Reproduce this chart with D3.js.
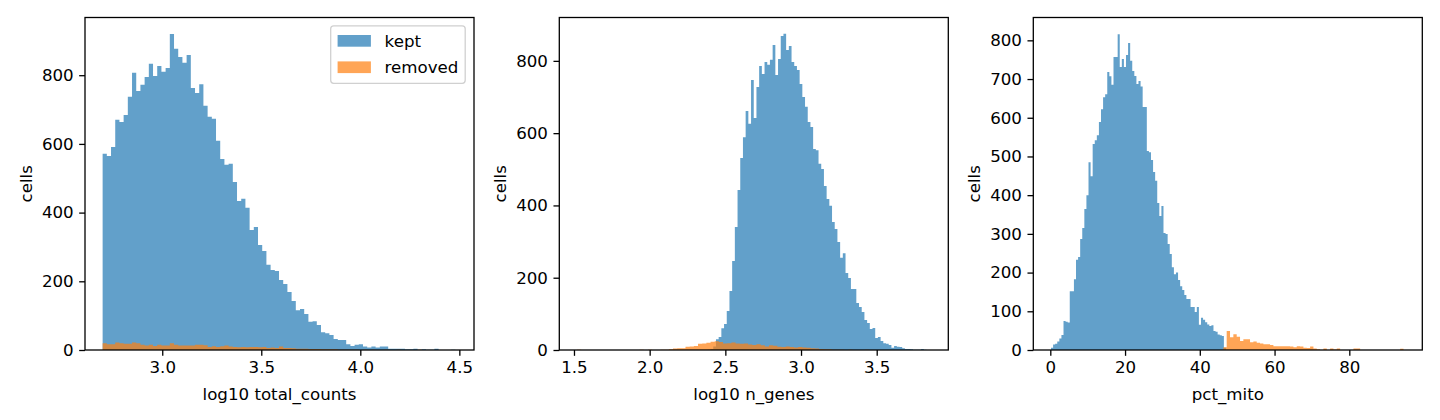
<!DOCTYPE html>
<html>
<head>
<meta charset="utf-8">
<script src="https://cdn.jsdelivr.net/npm/d3@7"></script>
<style>
  body { margin: 0; background: #fff; }
  svg { display: block; font-family: "DejaVu Sans", sans-serif; }
</style>
</head>
<body>
<div id="chart"></div>
<script>
// histogram counts, one value per bin
const countsKept = [571,565,591,670,664,684,737,807,754,772,795,833,798,827,810,821,920,877,853,836,859,763,748,774,711,679,673,609,556,539,
  542,489,434,440,414,349,358,306,288,248,233,230,204,192,169,143,116,119,105,82,84,73,52,49,44,32,29,29,
  17,12,15,17,10,7,10,7,10,10,4,4,4,4,2,2,4,1,2,1,1,4,0,0,0,1];
const countsRemoved = [20,17,17,22,20,18,18,22,20,15,13,15,12,15,13,13,20,15,13,13,13,13,15,15,14,9,11,9,11,13,
  10,9,8,9,8,9,9,8,9,6,7,6,10,6,6,5,4,4,4,3,3,3,2,2,2,2,1,1,1,1,
  1,0,1,0,1,0,0,1,0,0,1,0,0,0,0,1,0,0,0,0,0,0,0,0];

const genesKept = [0,0,0,1,3,10,
  30,36,60,72,108,163,246,340,443,531,589,661,626,747,642,728,786,764,797,789,803,844,761,805,
  869,875,830,841,797,786,775,736,700,673,631,617,556,553,515,501,454,418,399,354,335,299,255,268,213,199,169,169,130,119,105,83,75,58,61,33,36,25,19,17,14,6,11,
  9,8,5,3,3,2,1,1,1,3,1];
const genesRemoved = [1,0,0,0,0,0,0,0,0,0,0,0,0,0,0,1,0,1,0,0,1,1,2,4,5,5,9,10,11,17,
  18,20,23,24,22,18,19,21,18,17,18,15,14,16,13,10,13,12,9,8,10,8,7,8,7,6,5,4,3,2,
  2,1,1,1,0,1,0,0,0,1];

const mitoKept = [6,14,16,22,30,39,75,73,71,152,152,183,233,240,287,315,364,400,485,449,532,542,555,589,622,653,661,718,707,685,757,757,816,
  731,752,731,762,793,747,721,708,687,695,681,628,628,514,511,491,460,437,380,346,372,302,300,274,248,214,196,200,181,165,155,142,132,132,111,111,98,111,
  65,83,78,72,66,62,64,49,47,40,38,36,6];
const mitoRemoved = [7,49,33,41,34,23,28,28,20,22,19,17,15,15,13,10,10,10,10,10,9,7,10,9,6,5,9,4,2,0,
  4,0,4,1,4,0,0,0,0,4,4,0,0,0,0,0,0,0,0,0,0,0,0,3];

// bin ranges [first edge, last edge] of each series
const countsKeptRange = [2.699, 4.48];
const countsRemovedRange = [2.699, 4.48];
const genesKeptRange = [2.331, 3.829];
const genesRemovedRange = [1.52, 3.45];
const mitoKeptRange = [0.19, 47.0];
const mitoRemovedRange = [46.3, 94.5];

const xTicks1 = [3.0, 3.5, 4.0, 4.5];
const xTicks2 = [1.5, 2.0, 2.5, 3.0, 3.5];
const xTicks3 = [0, 20, 40, 60, 80];
const yTicks1 = [0, 200, 400, 600, 800];
const yTicks2 = [0, 200, 400, 600, 800];
const yTicks3 = [0, 100, 200, 300, 400, 500, 600, 700, 800];

const seriesLabels = ['kept', 'removed'];
const xLabels = ['log10 total_counts', 'log10 n_genes', 'pct_mito'];

const width = 1440, height = 420;
const fontSize = 16.67;
const tick = 5.83;
const colors = ['#1f77b4', '#ff7f0e'];

const svg = d3.select('#chart').append('svg')
  .attr('width', width)
  .attr('height', height)
  .attr('viewBox', [0, 0, width, height]);

const panels = [
  { left: 85, right: 474, xDomain: [2.610, 4.574], yMax: 968, xTicks: xTicks1, yTicks: yTicks1, fmt: d3.format('.1f'),
    series: [[countsKept, countsKeptRange], [countsRemoved, countsRemovedRange]], label: xLabels[0], legend: true },
  { left: 559.3, right: 948.3, xDomain: [1.403, 3.973], yMax: 920, xTicks: xTicks2, yTicks: yTicks2, fmt: d3.format('.1f'),
    series: [[genesKept, genesKeptRange], [genesRemoved, genesRemovedRange]], label: xLabels[1] },
  { left: 1033.3, right: 1422.3, xDomain: [-4.55, 99.53], yMax: 859, xTicks: xTicks3, yTicks: yTicks3, fmt: d3.format('d'),
    series: [[mitoKept, mitoKeptRange], [mitoRemoved, mitoRemovedRange]], label: xLabels[2] }
];

const plotTop = 17.5, plotBottom = 350;

panels.forEach(p => {
  const x = d3.scaleLinear().domain(p.xDomain).range([p.left, p.right]);
  const y = d3.scaleLinear().domain([0, p.yMax]).range([plotBottom, plotTop]);
  const g = svg.append('g');

  // bars: kept first, removed drawn over it
  // one path per series so neighbouring bars don't leave seams
  p.series.forEach(([counts, range], k) => {
    const step = (range[1] - range[0]) / counts.length;
    const bars = counts.map((c, i) => ({ x0: range[0] + i * step, x1: range[0] + (i + 1) * step, count: c }));
    const d = bars
      .filter(b => b.count > 0)
      .map(b => `M${x(b.x0)},${plotBottom}V${y(b.count)}H${x(b.x1)}V${plotBottom}Z`)
      .join('');
    g.append('path')
      .attr('d', d)
      .attr('fill', colors[k])
      .attr('fill-opacity', 0.7);
  });

  // axes
  const xAxis = g.append('g')
    .attr('transform', `translate(0,${plotBottom})`)
    .call(d3.axisBottom(x).tickValues(p.xTicks).tickFormat(p.fmt).tickSize(tick).tickPadding(5.5));
  const yAxis = g.append('g')
    .attr('transform', `translate(${p.left},0)`)
    .call(d3.axisLeft(y).tickValues(p.yTicks).tickSize(tick).tickPadding(5.5));
  [xAxis, yAxis].forEach(a => {
    a.select('.domain').remove();
    a.selectAll('line').attr('stroke', '#000').attr('stroke-width', 1.3);
    a.selectAll('text').attr('fill', '#000').style('font-size', fontSize + 'px').style('font-family', '"DejaVu Sans", sans-serif');
  });

  // frame
  g.append('rect')
    .attr('x', p.left)
    .attr('y', plotTop)
    .attr('width', p.right - p.left)
    .attr('height', plotBottom - plotTop)
    .attr('fill', 'none')
    .attr('stroke', '#000')
    .attr('stroke-width', 1.3);

  g.append('text')
    .attr('x', (p.left + p.right) / 2)
    .attr('y', 400)
    .attr('text-anchor', 'middle')
    .style('font-size', fontSize + 'px')
    .text(p.label);

  g.append('text')
    .attr('transform', `translate(${p.left - 59},${(plotTop + plotBottom) / 2}) rotate(-90)`)
    .attr('text-anchor', 'middle')
    .attr('dy', '0.35em')
    .style('font-size', fontSize + 'px')
    .text('cells');

  if (p.legend) {
    const lg = g.append('g');
    lg.append('rect')
      .attr('x', 330.7)
      .attr('y', 25.8)
      .attr('width', 134.5)
      .attr('height', 57.5)
      .attr('rx', 3)
      .attr('fill', '#fff')
      .attr('fill-opacity', 0.8)
      .attr('stroke', '#d0d0d0')
      .attr('stroke-width', 1.3);
    seriesLabels.forEach((s, k) => {
      const cy = 40.8 + k * 26.4;
      lg.append('rect')
        .attr('x', 337.6)
        .attr('y', cy - 5.8)
        .attr('width', 33.3)
        .attr('height', 11.7)
        .attr('fill', colors[k])
        .attr('fill-opacity', 0.7);
      lg.append('text')
        .attr('x', 384.6)
        .attr('y', cy)
        .attr('dy', '0.35em')
        .style('font-size', fontSize + 'px')
        .text(s);
    });
  }
});
</script>
</body>
</html>
